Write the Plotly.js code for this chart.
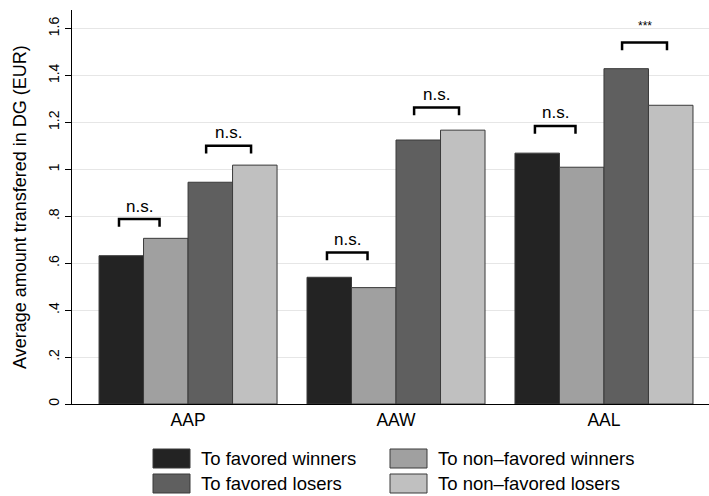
<!DOCTYPE html>
<html>
<head>
<meta charset="utf-8">
<script src="https://cdn.plot.ly/plotly-3.0.1.min.js"></script>
<style>html,body{margin:0;padding:0;background:#fff;}#chart{width:709px;height:496px;}</style>
</head>
<body>
<div id="chart"></div>
<script>
// ---- data ----
const categories = ["AAP", "AAW", "AAL"];
const seriesNames = ["To favored winners", "To non\u2013favored winners", "To favored losers", "To non\u2013favored losers"];
const favoredWinners = [0.632, 0.540, 1.069];
const nonFavoredWinners = [0.706, 0.496, 1.009];
const favoredLosers = [0.945, 1.125, 1.429];
const nonFavoredLosers = [1.018, 1.167, 1.273];
// significance brackets: winners pair and losers pair per category
const winnersBracketY = [0.788, 0.646, 1.185];
const losersBracketY = [1.100, 1.264, 1.541];
const winnersSig = ["n.s.", "n.s.", "n.s."];
const losersSig = ["n.s.", "n.s.", "***"];
const yTickVals = [0, 0.2, 0.4, 0.6, 0.8, 1, 1.2, 1.4, 1.6];
const yTickText = ["0", ".2", ".4", ".6", ".8", "1", "1.2", "1.4", "1.6"];
const yTitle = "Average amount transfered in DG (EUR)";

// ---- styles ----
const colors = ["#232323", "#a0a0a0", "#5f5f5f", "#c0c0c0"];
const FONT = "Liberation Sans, Arial, Helvetica, sans-serif";
const W = 709, H = 496;
const M = {l: 72, r: 0, t: 10, b: 92};
const plotW = W - M.l - M.r, plotH = H - M.t - M.b;
const px2x = p => (p - M.l) / plotW;
const py2y = p => (H - M.b - p) / plotH;

const xs = categories.map((c, i) => i);
const allSeries = [favoredWinners, nonFavoredWinners, favoredLosers, nonFavoredLosers];
const traces = allSeries.map((vals, k) => ({
  type: "bar",
  x: xs,
  y: vals,
  name: seriesNames[k],
  marker: {color: colors[k], line: {color: "#3a3a3a", width: 1}},
  showlegend: false,
  hoverinfo: "x+y"
}));

const shapes = [];
const annotations = [];
const tickDrop = 0.033;
function bracket(x0, x1, y, label, small) {
  shapes.push({
    type: "path", xref: "x", yref: "y",
    path: `M ${x0} ${y - tickDrop} L ${x0} ${y} L ${x1} ${y} L ${x1} ${y - tickDrop}`,
    line: {color: "#000", width: 2.5}
  });
  annotations.push({
    xref: "x", yref: "y", x: (x0 + x1) / 2, y: y, yshift: small ? 16 : 13,
    text: label, showarrow: false,
    font: {family: FONT, size: small ? 12 : 17, color: "#000"},
    yanchor: "middle"
  });
}
xs.forEach((x, i) => {
  bracket(x - 0.332, x - 0.137, winnersBracketY[i], winnersSig[i], winnersSig[i] === "***");
  bracket(x + 0.087, x + 0.303, losersBracketY[i], losersSig[i], losersSig[i] === "***");
});

// custom legend (wide boxes like the reference)
const legendPos = [[153, 449], [390, 449], [153, 474], [390, 474]];
legendPos.forEach(([lx, ly], k) => {
  shapes.push({
    type: "rect", xref: "paper", yref: "paper",
    x0: px2x(lx), x1: px2x(lx + 37), y0: py2y(ly + 19), y1: py2y(ly),
    fillcolor: colors[k], line: {color: "#3a3a3a", width: 1}
  });
  annotations.push({
    xref: "paper", yref: "paper", x: px2x(lx + 46), y: py2y(ly + 9.5),
    xanchor: "left", yanchor: "middle", showarrow: false,
    text: seriesNames[k], font: {family: FONT, size: 18.5, color: "#000"}
  });
});

// y-axis title
annotations.push({
  xref: "paper", yref: "paper", x: px2x(20), y: 0.5,
  xanchor: "center", yanchor: "middle", textangle: -90, showarrow: false,
  text: yTitle, font: {family: FONT, size: 18, color: "#000"}
});

const layout = {
  width: W, height: H,
  margin: M,
  paper_bgcolor: "#fff", plot_bgcolor: "#fff",
  font: {family: FONT, color: "#000"},
  barmode: "group", bargap: 0.144, bargroupgap: 0,
  showlegend: false,
  xaxis: {
    range: [-0.558, 2.505],
    tickvals: xs, ticktext: categories,
    showgrid: false, zeroline: false,
    showline: true, linecolor: "#000", linewidth: 1,
    ticks: "", tickfont: {family: FONT, size: 17.5, color: "#000"}
  },
  yaxis: {
    range: [0, 1.679],
    tickvals: yTickVals, ticktext: yTickText,
    tickangle: -90,
    showgrid: true, gridcolor: "#e6e6e6", gridwidth: 1,
    zeroline: false,
    showline: true, linecolor: "#000", linewidth: 1,
    ticks: "outside", ticklen: 6, tickcolor: "#000",
    tickfont: {family: FONT, size: 14, color: "#000"}
  },
  shapes: shapes,
  annotations: annotations
};

Plotly.newPlot("chart", traces, layout, {displayModeBar: false, staticPlot: true});
</script>
</body>
</html>
